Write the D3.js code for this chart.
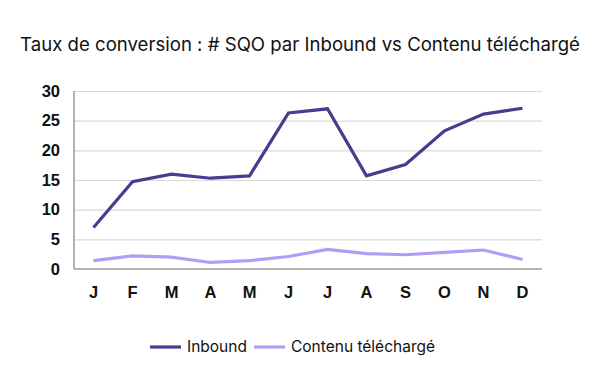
<!DOCTYPE html>
<html lang="fr">
<head>
<meta charset="utf-8">
<title>Taux de conversion</title>
<script src="https://cdn.jsdelivr.net/npm/d3@7"></script>
<style>
  body { margin: 0; background: #fff; }
  svg { font-family: Inter, "Noto Sans", sans-serif; }
  .grid line { stroke: #d9d9d9; stroke-width: 1.2; }
  .grid path { display: none; }
  .axis text { font-size: 16.5px; font-weight: 600; fill: #111; }
</style>
</head>
<body>
<div id="chart"></div>
<script>
// data
var months = ["J", "F", "M", "A", "M", "J", "J", "A", "S", "O", "N", "D"];
var inbound = [7, 14.7, 16, 15.3, 15.7, 26.3, 27, 15.7, 17.6, 23.3, 26.1, 27.1];
var contenu = [1.4, 2.2, 2, 1.1, 1.4, 2.1, 3.3, 2.6, 2.4, 2.8, 3.2, 1.6];
var yTicks = [0, 5, 10, 15, 20, 25, 30];
var seriesNames = ["Inbound", "Contenu téléchargé"];
var colors = ["#4a3b8f", "#b49cf6"];

var w = 600, h = 383;
var padL = 74, padR = 542, padT = 91, padB = 269;

var svg = d3.select("#chart").append("svg")
  .attr("width", w).attr("height", h);

svg.append("text")
  .attr("x", w / 2).attr("y", 51)
  .attr("text-anchor", "middle")
  .style("font-size", "18.6px")
  .style("fill", "#111")
  .text("Taux de conversion : # SQO par Inbound vs Contenu téléchargé");

var x = d3.scaleBand().domain(d3.range(months.length)).range([padL, padR]);
var y = d3.scaleLinear().domain([0, 30]).range([padB, padT]);

// grid lines
svg.append("g").attr("class", "grid")
  .attr("transform", "translate(" + padL + ",0)")
  .call(d3.axisRight(y).tickValues(yTicks.slice(1)).tickSize(padR - padL).tickFormat(""));

// y axis labels
var yAxis = svg.append("g").attr("class", "axis")
  .attr("transform", "translate(" + padL + ",0)")
  .call(d3.axisLeft(y).tickValues(yTicks).tickSize(0).tickPadding(14));
yAxis.select(".domain").remove();

// axis lines
svg.append("line").attr("x1", padL).attr("x2", padL).attr("y1", y(30)).attr("y2", y(0))
  .attr("stroke", "#9a9a9a").attr("stroke-width", 1.5);
svg.append("line").attr("x1", padL).attr("x2", padR).attr("y1", y(0)).attr("y2", y(0))
  .attr("stroke", "#9a9a9a").attr("stroke-width", 1.5);

// x axis labels
var xAxis = svg.append("g").attr("class", "axis")
  .attr("transform", "translate(0," + padB + ")")
  .call(d3.axisBottom(x).tickFormat(function(i) { return months[i]; }).tickSize(0).tickPadding(17));
xAxis.select(".domain").remove();

var line = d3.line()
  .x(function(d, i) { return x(i) + x.bandwidth() / 2; })
  .y(function(d) { return y(d); });

[inbound, contenu].forEach(function(s, k) {
  svg.append("path")
    .datum(s)
    .attr("d", line)
    .attr("fill", "none")
    .attr("stroke", colors[k])
    .attr("stroke-width", 3.2)
    .attr("stroke-linejoin", "miter");
});

// legend
var legendX = [150, 254];
seriesNames.forEach(function(name, k) {
  var g = svg.append("g").attr("transform", "translate(" + legendX[k] + ",347)");
  g.append("line").attr("x1", 0).attr("x2", 31).attr("y1", 0).attr("y2", 0)
    .attr("stroke", colors[k]).attr("stroke-width", 3.2);
  g.append("text").attr("x", 37).attr("y", 0).attr("dy", "0.35em")
    .style("font-size", "15.5px").style("fill", "#111")
    .text(name);
});
</script>
</body>
</html>
